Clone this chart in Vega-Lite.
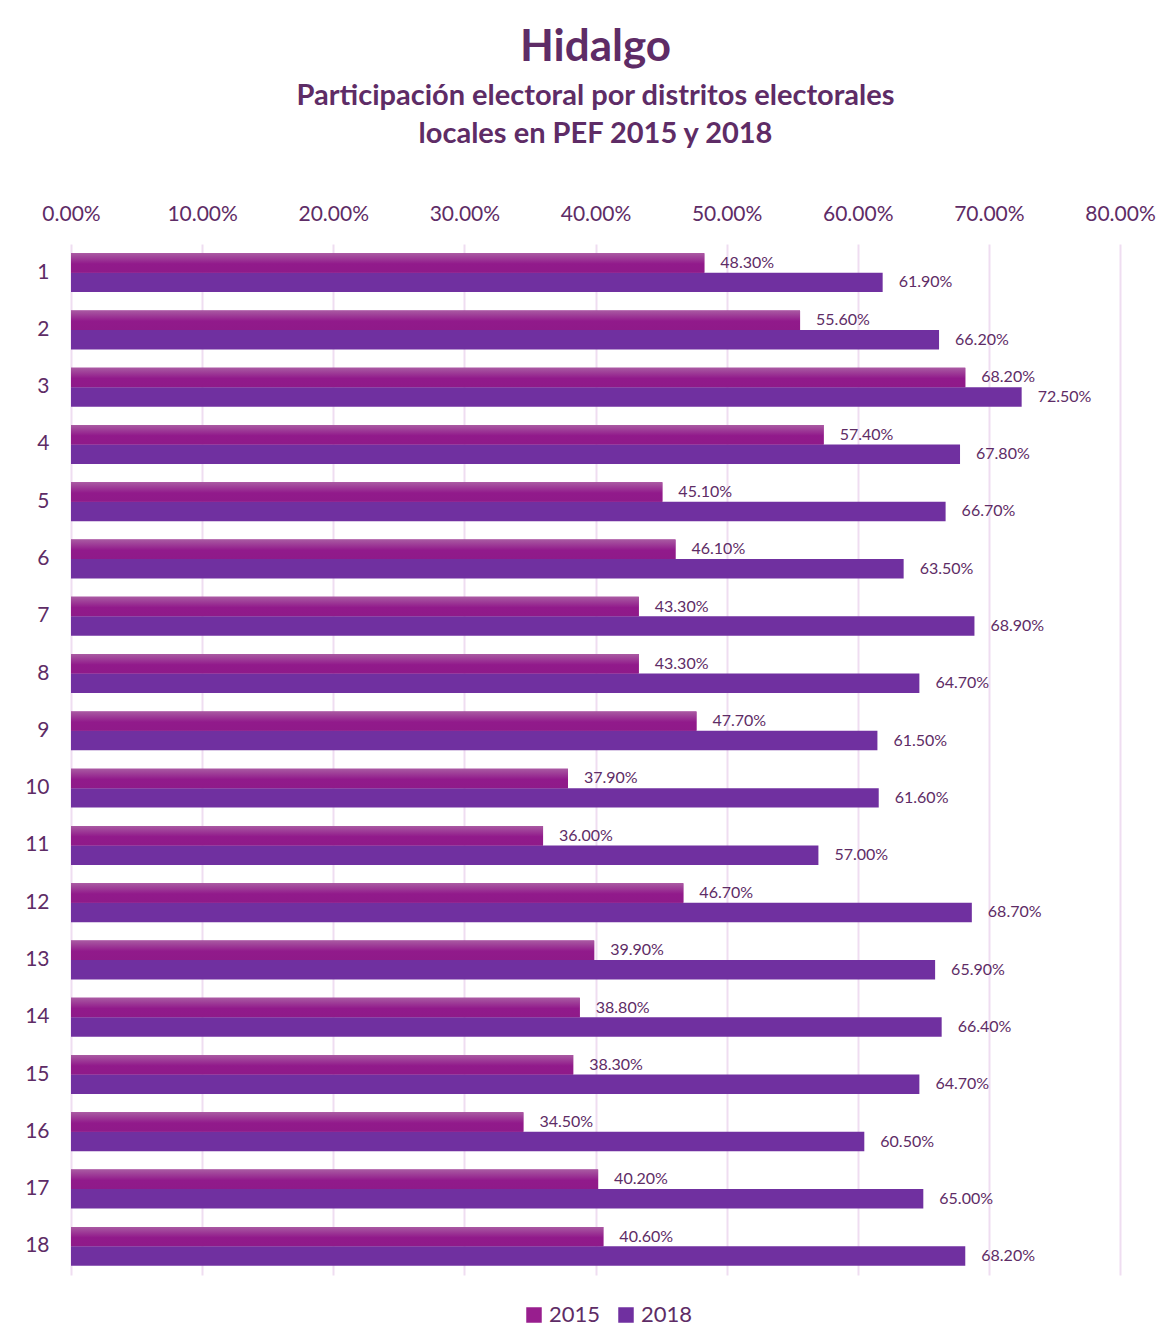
{
  "$schema": "https://vega.github.io/schema/vega-lite/v6.json",
  "width": 1049,
  "height": 1031,
  "autosize": {"type": "none"},
  "padding": {"left": 71, "top": 244, "right": 55, "bottom": 67},
  "background": "white",
  "title": {
    "text": "Hidalgo",
    "subtitle": ["Participación electoral por distritos electorales", "locales en PEF 2015 y 2018"],
    "anchor": "middle",
    "font": "Lato",
    "fontSize": 44,
    "fontWeight": "bold",
    "color": "#5E2C66",
    "subtitleFont": "Lato",
    "subtitleFontSize": 29,
    "subtitleFontWeight": "bold",
    "subtitleColor": "#5E2C66",
    "subtitleLineHeight": 38,
    "subtitlePadding": 12,
    "offset": 54
  },
  "data": {
    "values": [
      {"district": 1, "year": "2015", "value": 0.483}, {"district": 1, "year": "2018", "value": 0.619},
      {"district": 2, "year": "2015", "value": 0.556}, {"district": 2, "year": "2018", "value": 0.662},
      {"district": 3, "year": "2015", "value": 0.682}, {"district": 3, "year": "2018", "value": 0.725},
      {"district": 4, "year": "2015", "value": 0.574}, {"district": 4, "year": "2018", "value": 0.678},
      {"district": 5, "year": "2015", "value": 0.451}, {"district": 5, "year": "2018", "value": 0.667},
      {"district": 6, "year": "2015", "value": 0.461}, {"district": 6, "year": "2018", "value": 0.635},
      {"district": 7, "year": "2015", "value": 0.433}, {"district": 7, "year": "2018", "value": 0.689},
      {"district": 8, "year": "2015", "value": 0.433}, {"district": 8, "year": "2018", "value": 0.647},
      {"district": 9, "year": "2015", "value": 0.477}, {"district": 9, "year": "2018", "value": 0.615},
      {"district": 10, "year": "2015", "value": 0.379}, {"district": 10, "year": "2018", "value": 0.616},
      {"district": 11, "year": "2015", "value": 0.360}, {"district": 11, "year": "2018", "value": 0.570},
      {"district": 12, "year": "2015", "value": 0.467}, {"district": 12, "year": "2018", "value": 0.687},
      {"district": 13, "year": "2015", "value": 0.399}, {"district": 13, "year": "2018", "value": 0.659},
      {"district": 14, "year": "2015", "value": 0.388}, {"district": 14, "year": "2018", "value": 0.664},
      {"district": 15, "year": "2015", "value": 0.383}, {"district": 15, "year": "2018", "value": 0.647},
      {"district": 16, "year": "2015", "value": 0.345}, {"district": 16, "year": "2018", "value": 0.605},
      {"district": 17, "year": "2015", "value": 0.402}, {"district": 17, "year": "2018", "value": 0.650},
      {"district": 18, "year": "2015", "value": 0.406}, {"district": 18, "year": "2018", "value": 0.682}
    ]
  },
  "encoding": {
    "y": {
      "field": "district",
      "type": "ordinal",
      "sort": "ascending",
      "scale": {"paddingInner": 0.32, "paddingOuter": 0.16},
      "axis": {
        "title": null,
        "domain": false,
        "ticks": false,
        "labelFont": "Lato",
        "labelFontSize": 21,
        "labelColor": "#5E2C66",
        "labelPadding": 22,
        "labelAngle": 0
      }
    },
    "yOffset": {"field": "year", "type": "nominal", "scale": {"domain": ["2015", "2018"]}},
    "x": {
      "field": "value",
      "type": "quantitative",
      "scale": {"domain": [0, 0.8], "nice": false},
      "axis": {
        "orient": "top",
        "title": null,
        "format": ".2%",
        "values": [0, 0.1, 0.2, 0.3, 0.4, 0.5, 0.6, 0.7, 0.8],
        "domain": false,
        "ticks": false,
        "grid": true,
        "gridColor": "#EFDDF1",
        "gridWidth": 2,
        "labelFont": "Lato",
        "labelFontSize": 21,
        "labelColor": "#5E2C66",
        "labelPadding": 20,
        "labelFlush": false
      }
    }
  },
  "layer": [
    {
      "mark": {"type": "bar"},
      "encoding": {
        "color": {
          "field": "year",
          "type": "nominal",
          "scale": {"domain": ["2015", "2018"], "range": ["#981E8E", "#7030A0"]},
          "legend": {
            "orient": "none",
            "legendX": 452,
            "legendY": 1060,
            "direction": "horizontal",
            "title": null,
            "symbolType": "square",
            "symbolSize": 240,
            "symbolStrokeWidth": 0,
            "labelFont": "Lato",
            "labelFontSize": 22,
            "labelColor": "#5E2C66",
            "labelOffset": 4,
            "columnPadding": 14
          }
        }
      }
    },
    {
      "transform": [{"filter": "datum.year === '2015'"}],
      "mark": {
        "type": "bar",
        "fill": {
          "gradient": "linear",
          "x1": 0, "y1": 0, "x2": 0, "y2": 1,
          "stops": [
            {"offset": 0, "color": "#A95AA2"},
            {"offset": 0.55, "color": "#911A8B"},
            {"offset": 1, "color": "#8F1A89"}
          ]
        }
      },
      "encoding": {}
    },
    {
      "mark": {
        "type": "text",
        "align": "left",
        "baseline": "middle",
        "dx": 16,
        "font": "Lato",
        "fontSize": 16,
        "color": "#5E2C66"
      },
      "encoding": {
        "text": {"field": "value", "type": "quantitative", "format": ".2%"}
      }
    }
  ],
  "config": {
    "view": {"stroke": null}
  }
}
